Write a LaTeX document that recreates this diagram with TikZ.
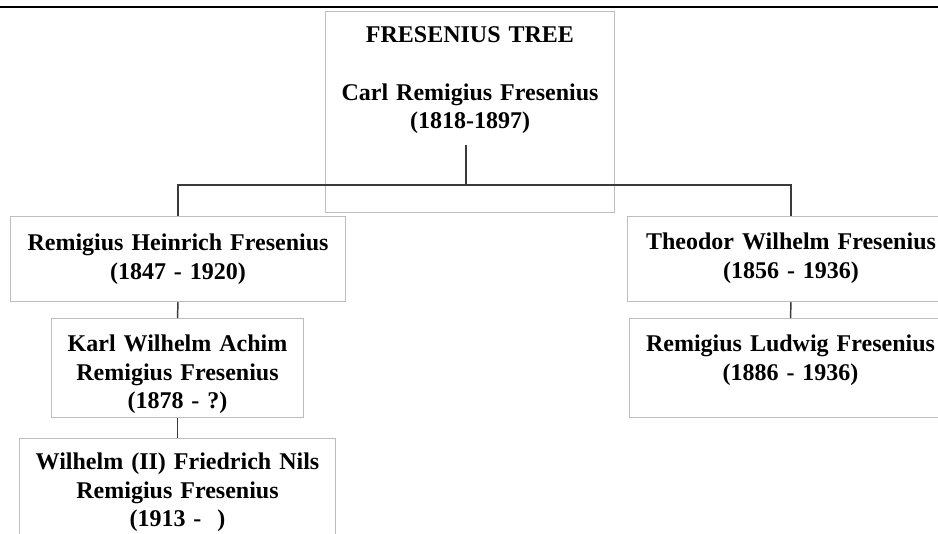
\documentclass[tikz,border=0pt]{standalone}
\usepackage{fontspec}
\setmainfont{Liberation Serif}
\usepackage{tikz}
\definecolor{boxgray}{HTML}{BDBDBD}
\definecolor{linegray}{HTML}{3A3A3A}
\tikzstyle{member} = [draw=boxgray, line width=0.75pt, anchor=north west, align=center, inner sep=0pt, font=\bfseries\fontsize{18}{21.4}\selectfont]
\tikzstyle{branch} = [draw=linegray, line width=1.1pt]

\begin{document}
\begin{tikzpicture}[x=0.75pt, y=-0.75pt]
    \useasboundingbox (0,0) rectangle (938,533);
    \clip (0,0) rectangle (938,533);
    % Rule
    \draw [line width=2pt] (0,7) -- (938,7);

    % Nodes
    \node [member, text width=216.75pt, text height=23.25pt, text depth=127.5pt,
           font=\bfseries\fontsize{18}{21}\selectfont] (carl) at (325,11)
        {FRESENIUS TREE\\[22.5pt] Carl Remigius Fresenius\\(1818-1897)};
    \node [member, text width=251.25pt, text height=25.5pt, text depth=38.25pt] (heinrich) at (10,216)
        {Remigius Heinrich Fresenius\\(1847 - 1920)};
    \node [member, text width=245.25pt, text height=24.75pt, text depth=39pt] (theodor) at (627,216)
        {Theodor Wilhelm Fresenius\\(1856 - 1936)};
    \node [member, text width=189pt, text height=24.75pt, text depth=49.5pt] (karl) at (51,318)
        {Karl Wilhelm Achim\\Remigius Fresenius\\(1878 - ?)};
    \node [member, text width=241.5pt, text height=24.75pt, text depth=49.5pt] (ludwig) at (629,318)
        {Remigius Ludwig Fresenius\\(1886 - 1936)};
    \node [member, text width=237pt, text height=23.25pt, text depth=75pt] (wilhelm) at (19,438)
        {Wilhelm (II) Friedrich Nils\\Remigius Fresenius\\(1913 -~~)};
    \coordinate (stem) at (466,145);
    \coordinate (fork) at (466,185);

    % Lines
    \path [branch] (stem) -- (fork);
    \path [branch] (fork) -| (heinrich.north);
    \path [branch] (fork) -| (theodor.north);
    \path [branch] (heinrich.south) -- (karl.north);
    \path [branch] (karl.south) -- (wilhelm.north);
    \path [branch] (theodor.south) -- (ludwig.north);
\end{tikzpicture}
\end{document}
